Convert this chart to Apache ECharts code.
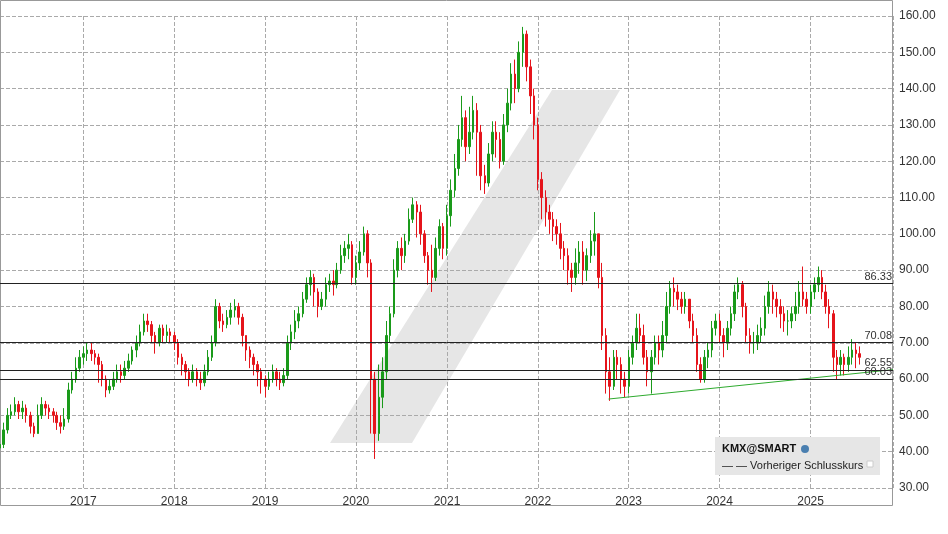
<!DOCTYPE html>
<html><head><meta charset="utf-8">
<script src="https://cdn.jsdelivr.net/npm/echarts@6/dist/echarts.min.js"></script>
<style>html,body{margin:0;padding:0;background:#fff}#c{width:948px;height:534px}</style>
</head><body><div id="c"></div>
<script>
// semi-monthly closes, highs, lows (Feb 2016 .. Jul 2025)
const closes = [
42,46,50,51,53,51,52,50,47,45,50,53,52,51,50,48,47,49,57,60,63,66,
67,68,67,66,64,60,57,58,60,62,61,63,65,68,70,73,76,75,72,70,74,72,73,72,
70,66,64,62,60,62,60,59,62,66,70,80,76,75,77,79,80,77,72,68,66,64,62,60,
58,60,62,60,59,61,70,73,76,78,82,86,88,84,80,82,86,87,86,90,94,96,97,88,
92,95,100,92,60,45,55,62,72,78,90,96,94,98,104,108,106,100,94,90,88,96,102,96,
105,112,118,126,132,124,128,134,128,116,114,122,128,126,120,130,136,144,140,150,155,146,138,130,
115,110,106,104,102,100,96,94,90,88,92,95,90,94,98,100,88,72,62,58,66,64,60,58,
66,70,74,72,66,62,66,70,68,72,80,85,84,82,80,82,76,72,64,60,66,68,74,76,
72,70,74,78,84,86,80,72,70,70,72,74,80,84,82,80,78,76,76,78,80,84,82,80,
84,86,88,84,80,78,66,64,66,64,66,68,67,66];
const highs = [
46,48,52,53,55,54,54,53,51,48,53,55,54,53,52,51,50,52,59,62,66,68,
69,70,70,68,67,65,61,60,62,64,64,65,67,69,72,75,78,78,76,73,75,75,75,74,
73,71,67,65,63,64,63,62,64,68,72,82,81,78,79,81,82,81,78,72,69,67,65,63,
61,62,64,63,62,63,72,75,79,80,84,88,90,89,85,84,88,89,90,92,97,98,100,98,
94,98,102,101,93,62,64,66,76,80,93,98,99,100,107,110,109,108,101,95,97,99,104,103,
108,115,122,130,138,134,135,138,136,130,119,125,131,131,128,133,140,147,148,153,157,156,148,140,
132,117,112,108,106,104,103,98,96,92,96,98,98,96,101,106,100,92,74,66,68,68,66,62,
68,72,78,78,75,68,68,72,72,76,84,87,88,86,84,84,82,78,74,66,68,70,76,78,
78,74,76,80,86,88,87,81,74,73,75,77,83,87,86,84,82,80,79,80,84,87,91,84,
86,88,91,90,86,82,79,68,68,67,69,71,70,69];
const lows = [
40,41,45,49,50,49,49,48,45,44,45,49,50,49,48,46,45,46,48,56,59,62,
64,65,65,64,59,58,55,56,57,59,59,60,62,64,66,69,72,73,70,67,69,70,70,70,
68,64,61,60,58,59,58,57,58,61,65,69,74,73,74,75,77,75,69,65,63,61,58,56,
55,57,59,58,57,58,60,68,71,74,77,81,83,80,77,79,80,84,83,85,89,92,93,86,
86,90,94,88,45,38,43,52,60,70,77,88,90,92,97,103,99,97,92,86,84,87,94,93,
94,102,110,116,124,120,122,126,116,112,111,113,120,121,118,119,128,134,136,139,146,142,133,126,
112,104,102,100,98,97,93,90,86,84,86,89,86,87,92,94,85,68,56,54,57,60,56,55,
56,64,68,70,64,58,56,64,64,66,70,78,80,79,78,78,74,70,62,59,59,63,66,72,
70,66,68,72,76,82,77,70,67,67,68,70,72,78,78,77,74,73,72,74,76,78,80,78,
78,82,84,82,78,74,62,60,61,61,62,64,63,64];
const levels = [86.33, 70.08, 62.55, 60.03];
const trend = [['2022-10-12', 54.5], ['2025-11-28', 62.6]];

const dates = [];
for (let i = 0; i < closes.length; i++) {
  const m = 1 + Math.floor(i / 2); // starting Feb 2016
  const y = 2016 + Math.floor(m / 12), mo = m % 12;
  dates.push(new Date(Date.UTC(y, mo, i % 2 ? 16 : 2)).toISOString().slice(0,10));
}
const candles = closes.map((c, i) => {
  const o = i ? closes[i-1] : 41;
  return [dates[i], o, c, Math.min(lows[i], o, c), Math.max(highs[i], o, c)];
});

const chart = echarts.init(document.getElementById('c'));
const Y = 365.25*86400000;
chart.setOption({
  animation: false,
  grid: {left: 0, right: 55, top: 16, bottom: 46},
  xAxis: {type: 'time', min: '2016-02-01', max: '2025-11-28', minInterval: Y, maxInterval: Y,
    axisLine: {show: false}, axisTick: {show: false},
    axisLabel: {color: '#333', fontSize: 12, fontFamily: 'Liberation Sans', formatter: v => String(new Date(v).getUTCFullYear())},
    splitLine: {show: true, lineStyle: {color: '#aaa', type: 'dashed'}}},
  yAxis: {type: 'value', position: 'right', min: 30, max: 160, interval: 10,
    axisLine: {show: false}, axisTick: {show: false},
    axisLabel: {color: '#333', fontSize: 12, fontFamily: 'Liberation Sans', margin: 6, formatter: v => v.toFixed(2)},
    splitLine: {lineStyle: {color: '#aaa', type: 'dashed'}}},
  graphic: [
    {type: 'rect', shape: {x: 0.5, y: 0.5, width: 892, height: 505}, style: {fill: null, stroke: '#999'}, z: 1},
    {type: 'polygon', shape: {points: [[552,90],[620,90],[412,443],[330,443]]}, style: {fill: '#e6e6e6'}, z: -10},
    {type: 'rect', shape: {x: 715, y: 437, width: 165, height: 38}, style: {fill: '#e6e6e6'}, z: 5},
    {type: 'text', x: 722, y: 443, style: {text: 'KMX@SMART', font: 'bold 11px Liberation Sans', fill: '#111'}, z: 6},
    {type: 'circle', shape: {cx: 805, cy: 449, r: 4}, style: {fill: '#4a7fb0'}, z: 6},
    {type: 'text', x: 722, y: 460, style: {text: '— — Vorheriger Schlusskurs', font: '11px Liberation Sans', fill: '#222'}, z: 6},
    {type: 'rect', shape: {x: 867, y: 461, width: 6, height: 6}, style: {fill: '#fff', stroke: '#ccc'}, z: 6}
  ],
  series: [
    {type: 'candlestick', data: candles, barWidth: 2, z: 3,
      itemStyle: {color: '#1a9a1a', color0: '#e5141b', borderColor: '#1a9a1a', borderColor0: '#e5141b', borderWidth: 1},
      markLine: {symbol: 'none', silent: true,
        lineStyle: {color: '#222', type: 'solid', width: 1},
        label: {position: 'insideEndTop', color: '#333', fontSize: 11, formatter: p => p.value.toFixed(2), distance: [1, 1]},
        data: levels.map(v => ({yAxis: v}))}},
    {type: 'line', data: trend, symbol: 'none', lineStyle: {color: '#2eaa2e', width: 1}, z: 4}
  ]
});
</script></body></html>
